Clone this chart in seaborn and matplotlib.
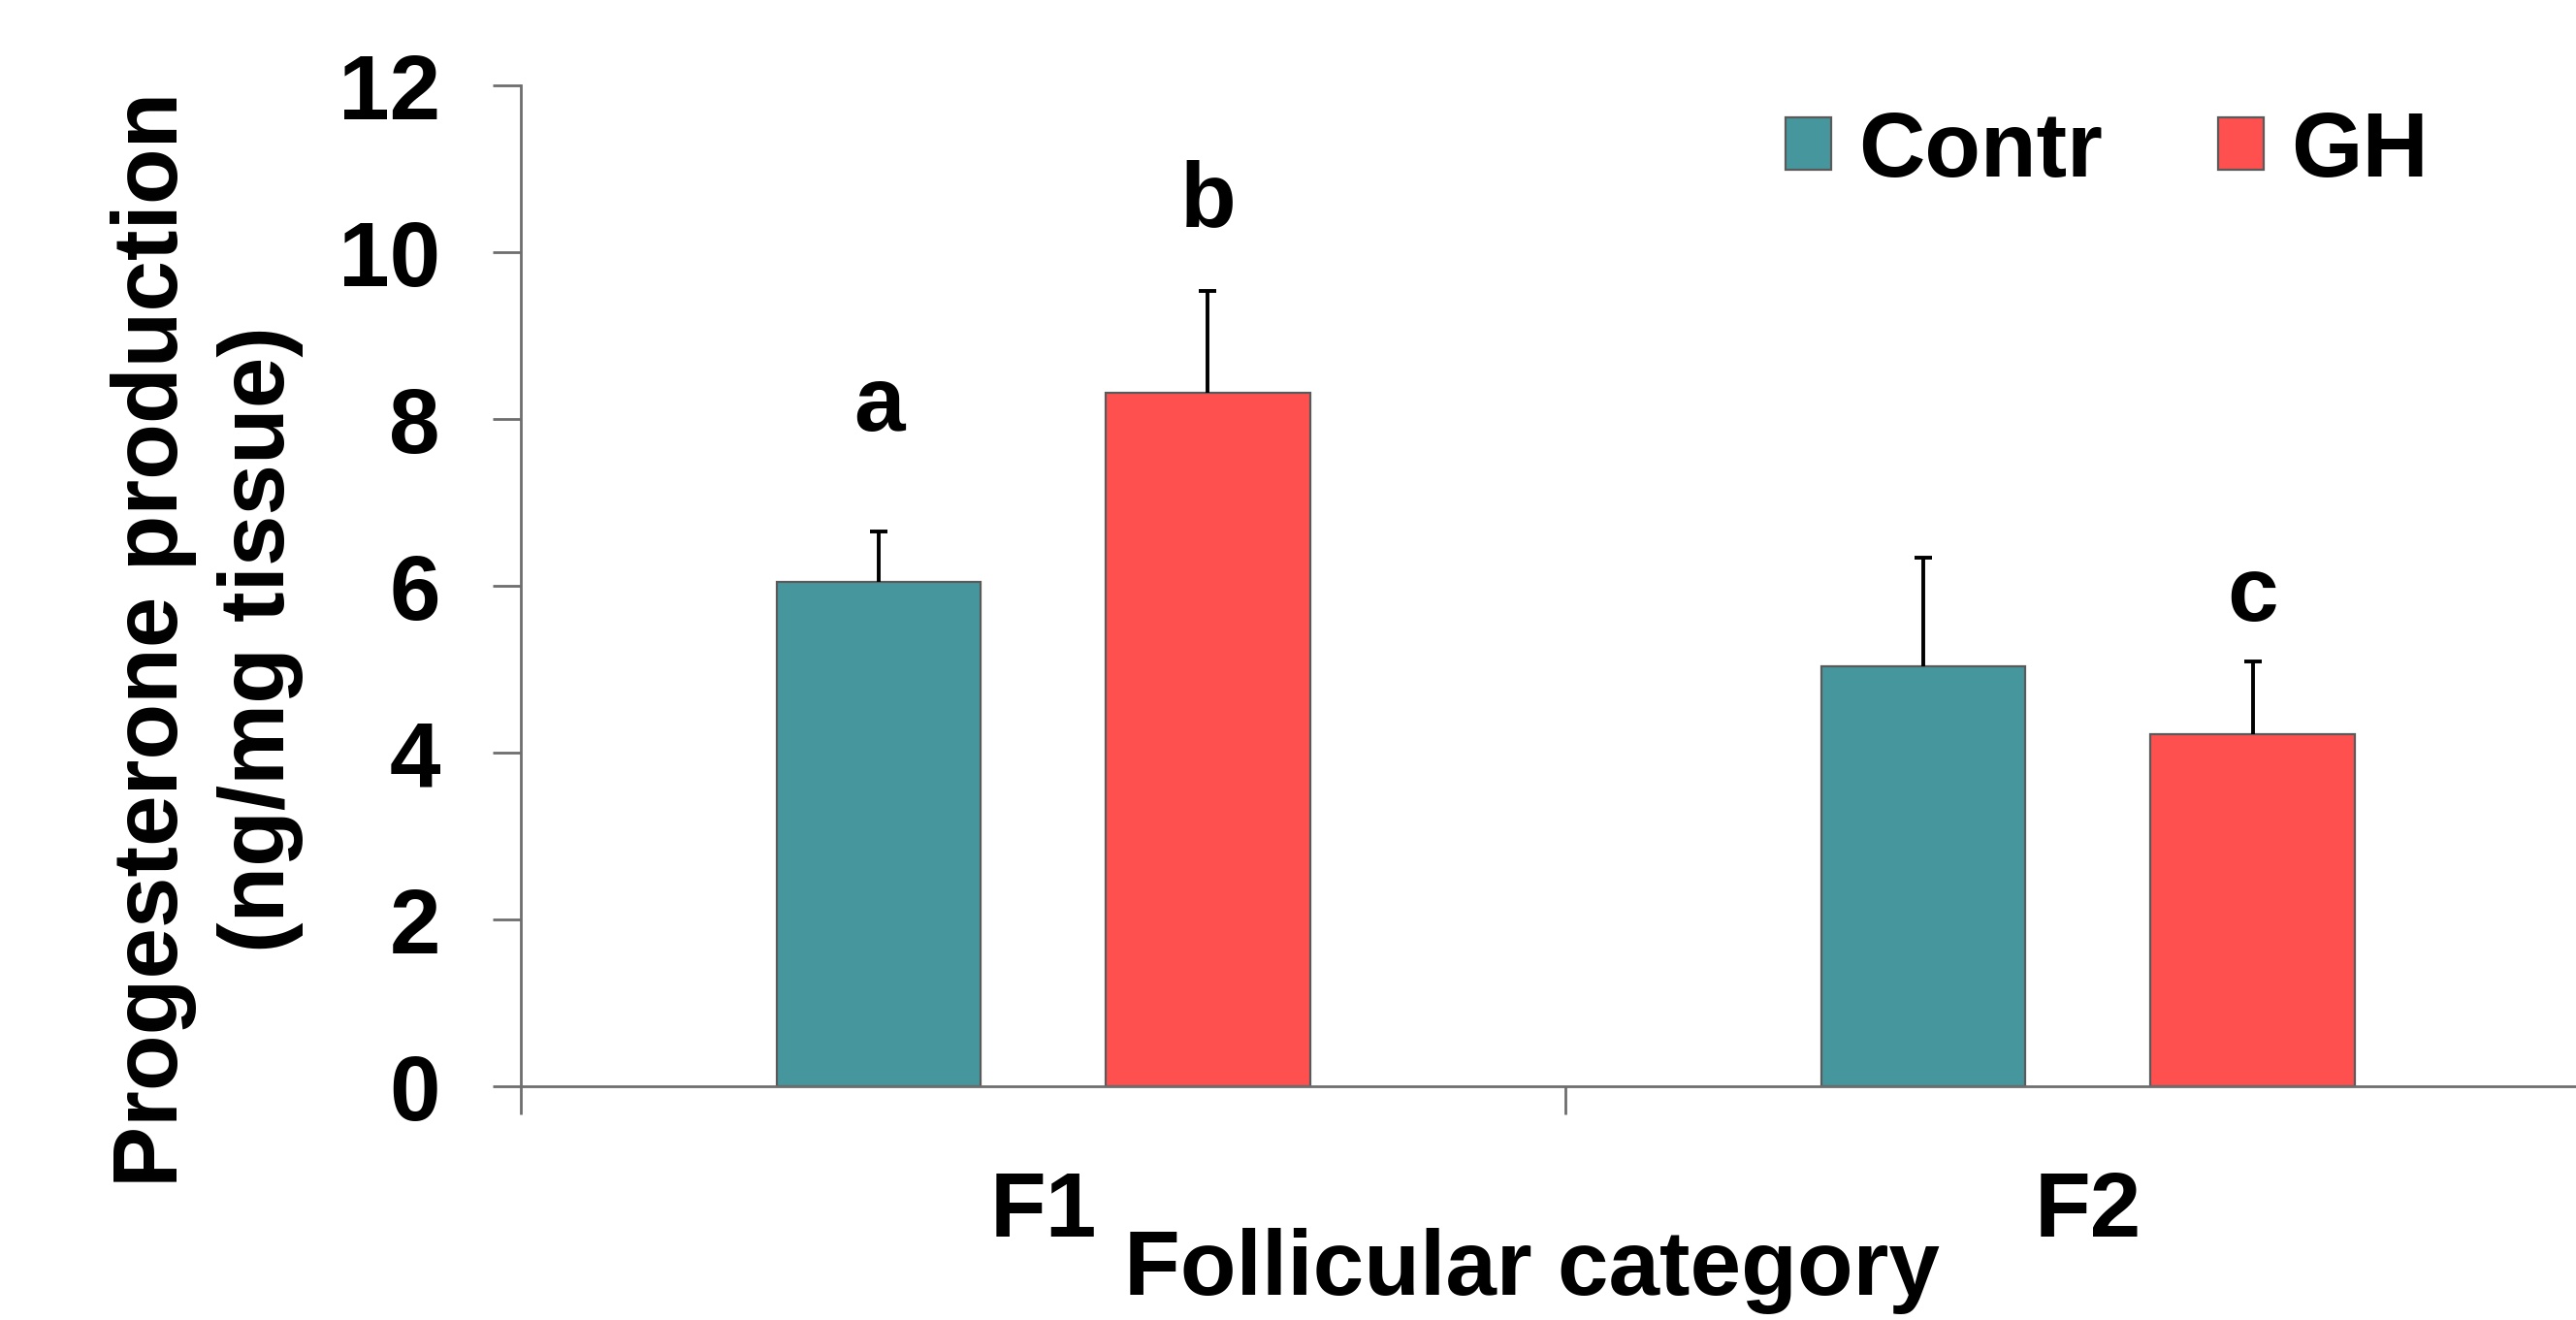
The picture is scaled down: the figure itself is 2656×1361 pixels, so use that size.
import numpy as np
import pandas as pd
import matplotlib
matplotlib.use('Agg')
import matplotlib.pyplot as plt
import seaborn as sns

# data
categories = ['F1', 'F2']
groups = ['Contr', 'GH']
contr_mean = [6.05, 5.04]
gh_mean = [8.32, 4.22]
contr_sem = [0.61, 1.30]
gh_sem = [1.22, 0.88]
contr_letters = ['a', '']
gh_letters = ['b', 'c']
contr_letter_y = [7.86, np.nan]
gh_letter_y = [10.32, 5.58]

colors = ['#46969E', '#FF5050']

df = pd.DataFrame({
    'category': categories * 2,
    'group': [groups[0]] * 2 + [groups[1]] * 2,
    'value': contr_mean + gh_mean,
})

sns.set_theme(style='white')
plt.rcParams['font.family'] = ['Liberation Sans', 'DejaVu Sans']
plt.rcParams['font.weight'] = 'bold'
plt.rcParams['text.color'] = 'black'
plt.rcParams['axes.labelcolor'] = 'black'
plt.rcParams['xtick.labelcolor'] = 'black'
plt.rcParams['ytick.labelcolor'] = 'black'

fig = plt.figure(figsize=(13.28, 6.805), dpi=200)
ax = fig.add_axes([0.2022, 0.1768, 0.8112, 0.7584])

sns.barplot(data=df, x='category', y='value', hue='group', order=categories,
            hue_order=groups, palette=colors, width=0.63, gap=0.38,
            edgecolor='#5a5a5a', linewidth=0.8, saturation=1, errorbar=None, ax=ax)

# upward-only error bars and the significance letters
for cont, sem, letters, ly in zip(ax.containers, [contr_sem, gh_sem],
                                  [contr_letters, gh_letters],
                                  [contr_letter_y, gh_letter_y]):
    xs = [p.get_x() + p.get_width() / 2 for p in cont]
    ys = [p.get_height() for p in cont]
    eb = ax.errorbar(xs, ys, yerr=[np.zeros(len(sem)), sem], fmt='none',
                     ecolor='black', elinewidth=1.4, capsize=3.2, capthick=1.4, zorder=1)
    eb[1][0].remove()  # no cap at the bar top
    for x, lab, y in zip(xs, letters, ly):
        if lab:
            ax.text(x, y, lab, ha='center', va='baseline', fontsize=34,
                    fontweight='bold', color='black')

ax.set_ylim(0, 12)
ax.set_yticks(range(0, 13, 2))
ax.set_xlim(-0.5, 1.5)
ax.set_xticks([0, 1])
ax.set_xticklabels(categories)
ax.set_xticks([-0.5, 0.5, 1.5], minor=True)

sns.despine(ax=ax)
for s in ['left', 'bottom']:
    ax.spines[s].set_color('#6e6e6e')
    ax.spines[s].set_linewidth(1.0)

ax.tick_params(axis='x', which='major', length=0, pad=31, labelsize=34)
ax.tick_params(axis='x', which='minor', length=10.4, width=1.0, color='#6e6e6e',
               direction='out', bottom=True)
ax.tick_params(axis='y', length=10.4, width=1.0, color='#6e6e6e', direction='out',
               left=True, pad=19.5, labelsize=34)
for t in ax.get_xticklabels() + ax.get_yticklabels():
    t.set_fontweight('bold')

ax.set_xlabel('Follicular category', fontsize=34, fontweight='bold')
ax.xaxis.set_label_coords(0.484, -0.141)
ax.set_ylabel('Progesterone production\n(ng/mg tissue)', fontsize=34,
              fontweight='bold', linespacing=1.3)
ax.yaxis.set_label_coords(-0.104, 0.447)

handles, labels = ax.get_legend_handles_labels()
ax.legend(handles, labels, loc='center left', bbox_to_anchor=(0.605, 0.933),
          ncol=2, frameon=False, handlelength=0.5, handleheight=0.5,
          handletextpad=0.3, columnspacing=1.26, borderpad=0, borderaxespad=0,
          prop={'size': 34, 'weight': 'bold'})

fig.savefig('out.png', dpi=200)
